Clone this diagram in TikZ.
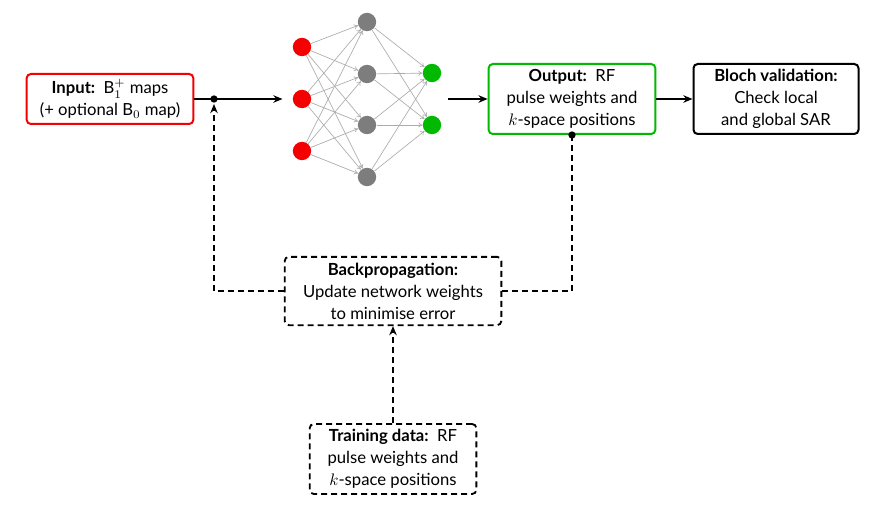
\documentclass[tikz,border=0pt]{standalone}
\usepackage{fontspec}
\setmainfont{Lato}
\usetikzlibrary{arrows.meta}
\usetikzlibrary{positioning}
\definecolor{rotN}{RGB}{245,0,0}
\definecolor{gruenN}{RGB}{0,185,0}
\definecolor{grauN}{RGB}{125,125,125}
\tikzset{
  Kasten/.style={draw=#1, line width=1.2pt, rounded corners=2.5pt, align=center,
    inner sep=2pt, fill=white}, % für Textkästen
  Neuron/.style={circle, fill=#1, minimum size=11pt, inner sep=0pt}, % für Neuronen
  Kante/.style={draw=gray!65, line width=0.4pt, -{To[length=2.5pt,width=3pt]}}, % für Netzkanten
  Pfeil/.style={line width=1.1pt, -{Stealth[length=5.5pt,width=4.5pt]}}, % für Hauptpfeile
  Strich/.style={line width=1.1pt, dash pattern=on 3.6pt off 2.4pt} % für Rückführung
}

\begin{document}
\begin{tikzpicture}[x=0.6pt, y=-0.6pt,
font=\fontsize{10}{13.2}\selectfont
]
\useasboundingbox (0,0) rectangle (886,523);

%Kästen
\node[Kasten=rotN, minimum width=100pt, minimum height=30pt] (in) at (110,99)
  {\textbf{Input:}\, B$_1^+$ maps\\(+ optional B$_0$ map)};
\node[Kasten=gruenN, minimum width=100pt, minimum height=42pt] (out) at (572,99)
  {\textbf{Output:}\, RF\\pulse weights and\\$k$-space positions};
\node[Kasten=black, minimum width=99pt, minimum height=42pt] (bloch) at (776,99)
  {\textbf{Bloch validation:}\\Check local\\and global SAR};
\node[Kasten=black, Strich, minimum width=130pt, minimum height=41pt] (bp) at (393,291)
  {\textbf{Backpropagation:}\\Update network weights\\to minimise error};
\node[Kasten=black, Strich, minimum width=100pt, minimum height=42pt] (train) at (393,459)
  {\textbf{Training data:}\, RF\\pulse weights and\\$k$-space positions};

%Netz
\foreach \j/\y in {1/47,2/99,3/151}
  \node[Neuron=rotN] (r\j) at (302,\y) {};
\foreach \j/\y in {1/22,2/74,3/125,4/177}
  \node[Neuron=grauN] (h\j) at (367,\y) {};
\foreach \j/\y in {1/73,2/125}
  \node[Neuron=gruenN] (g\j) at (432,\y) {};
\foreach \a in {1,2,3}
  \foreach \b in {1,...,4}
    \draw[Kante] (r\a) -- (h\b);
\foreach \a in {1,...,4}
  \foreach \b in {1,2}
    \draw[Kante] (h\a) -- (g\b);

%Hilfspunkte
\coordinate (J) at (214,99);
\coordinate (NA) at (448,99);

%Leitungen
\draw[Pfeil, shorten >=6pt] (in.east) -- (r2);
\draw[Pfeil] (NA) -- (out.west);
\draw[Pfeil] (out.east) -- (bloch.west);
\draw[Strich] (out.south) |- (bp.east);
\draw[Strich, -{Stealth[length=5.5pt,width=4.5pt]}, shorten >=3pt] (bp.west) -| (J);
\draw[Strich, -{Stealth[length=5.5pt,width=4.5pt]}] (train.north) -- (bp.south);
\fill (J) circle (2.2pt);
\fill (out.south) circle (2.2pt);

\end{tikzpicture}
\end{document}
